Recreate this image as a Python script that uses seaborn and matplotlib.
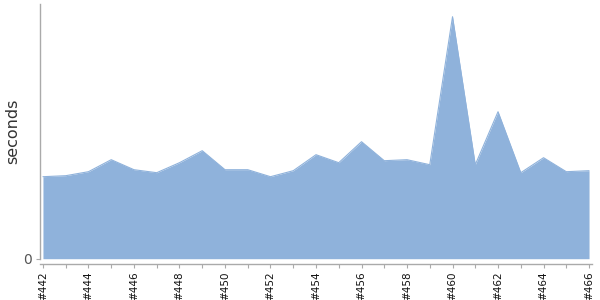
import matplotlib
matplotlib.use("Agg")
import matplotlib.pyplot as plt
import seaborn as sns
import pandas as pd
import numpy as np

builds = list(range(442, 467))
seconds = [82, 83, 87, 99, 89, 86, 96, 108, 89, 89, 82, 88, 104, 96, 117,
           98, 99, 94, 242, 94, 147, 86, 101, 87, 88]
tick_builds = list(range(442, 467, 2))
tick_labels = [f"#{b}" for b in tick_builds]

df = pd.DataFrame({"build": builds, "seconds": seconds})

sns.set_theme(style="white")
plt.rcParams['font.family'] = ['DejaVu Sans']

fig = plt.figure(figsize=(6, 3), dpi=100)
ax = fig.add_axes([40/600, 1-258.7/300, 552/600, 254.7/300])

color = "#8FB2DB"
sns.lineplot(data=df, x="build", y="seconds", ax=ax, color=color, linewidth=0.8)
ax.fill_between(df["build"], 0, df["seconds"], color=color, linewidth=0)

ax.set_xlim(441.87, 466.13)
ax.set_ylim(0, 254.7)

ax.set_xticks(tick_builds)
ax.set_xticklabels(tick_labels)
ax.set_xticks(builds, minor=True)
ax.set_yticks([0])
ax.set_yticklabels(["0"])

for s in ["top", "right"]:
    ax.spines[s].set_visible(False)
ax.spines["left"].set_color("#aaaaaa")
ax.spines["bottom"].set_color("#aaaaaa")
ax.spines["left"].set_linewidth(1)
ax.spines["bottom"].set_linewidth(1)
ax.spines["bottom"].set_position(("outward", 4))

ax.tick_params(axis="x", which="both", bottom=True, length=3, color="#aaaaaa", width=0.8, pad=2,
               labelrotation=90, labelsize=7.5, labelcolor="#111111")
ax.tick_params(axis="y", left=True, length=3, color="#aaaaaa", width=0.8, pad=3,
               labelsize=10, labelcolor="#555555")

ax.set_xlabel("")
ax.set_ylabel("seconds", fontsize=11.5, color="#333333")
ax.yaxis.set_label_coords(-0.036, 0.5)

fig.savefig("out.png", dpi=100)
